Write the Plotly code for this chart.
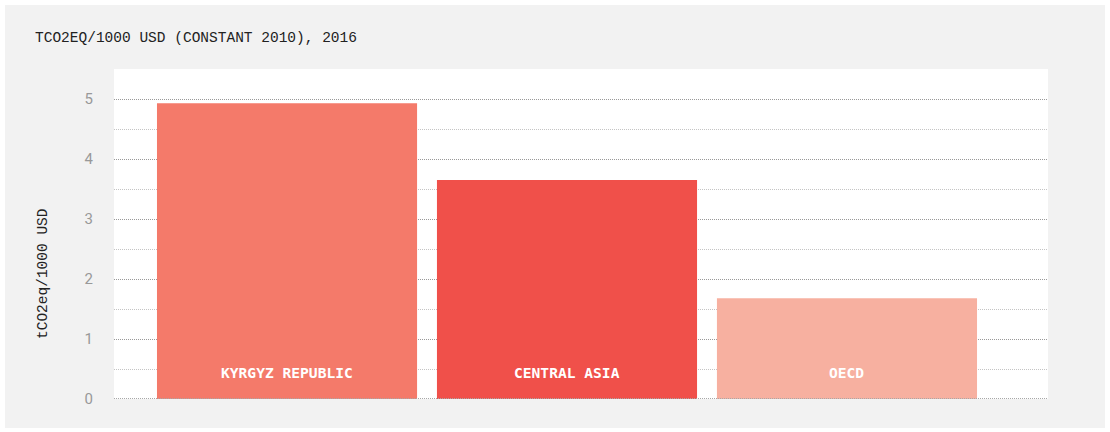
import plotly.graph_objects as go

categories = ["KYRGYZ REPUBLIC", "CENTRAL ASIA", "OECD"]
values = [4.93, 3.65, 1.68]
colors = ["#f47a6a", "#f0504a", "#f7b0a0"]
y_ticks = [0, 1, 2, 3, 4, 5]

W, H = 1110, 432
L, R, T, B = 114, 62, 69, 33
pw, ph = W - L - R, H - T - B

def px(x):
    return (x - L) / pw

def py(y):
    return (H - B - y) / ph

fig = go.Figure()
fig.add_trace(go.Bar(
    x=categories, y=values, marker=dict(color=colors, line=dict(width=0)),
    width=0.929, hoverinfo="x+y",
))

for c in categories:
    fig.add_annotation(x=c, y=0, xref="x", yref="y", text=f"<b>{c}</b>",
                       showarrow=False, yanchor="bottom", yshift=16,
                       font=dict(family="DejaVu Sans Mono", size=14.6, color="white"))

fig.add_annotation(x=px(43), y=py(274), xref="paper", yref="paper",
                   xanchor="center", yanchor="middle",
                   text="tCO2eq/1000 USD", textangle=-90, showarrow=False,
                   font=dict(family="Liberation Mono", size=14.5, color="#222"))

# panel background and plot background
fig.add_shape(type="rect", xref="paper", yref="paper", layer="below",
              x0=px(5), x1=px(1105), y0=py(428), y1=py(5),
              fillcolor="#f2f2f2", line=dict(width=0))
fig.add_shape(type="rect", xref="paper", yref="paper", layer="below",
              x0=0, x1=1, y0=0, y1=1, fillcolor="white", line=dict(width=0))
# dotted baseline at zero
fig.add_shape(type="line", xref="paper", yref="y", layer="above",
              x0=0, x1=1, y0=0, y1=0,
              line=dict(color="#a8a8a8", width=2, dash="1px,1px"))

fig.update_layout(
    width=W, height=H,
    margin=dict(l=L, r=R, t=T, b=B),
    paper_bgcolor="white", plot_bgcolor="rgba(0,0,0,0)",
    showlegend=False,
    title=dict(text="TCO2EQ/1000 USD (CONSTANT 2010), 2016",
               x=35 / W, xanchor="left", xref="container",
               y=1 - 37 / H, yanchor="middle", yref="container",
               font=dict(family="Liberation Mono", size=14.5, color="#222")),
    xaxis=dict(range=[-0.618, 2.718], showticklabels=False, showgrid=False,
               zeroline=False, showline=False, fixedrange=True),
    yaxis=dict(range=[0, 5.5], tickvals=y_ticks, showgrid=True,
               gridcolor="#999999", griddash="1px,1px", gridwidth=1,
               zeroline=False, showline=False,
               ticks="outside", ticklen=17, tickcolor="rgba(0,0,0,0)",
               tickfont=dict(family="Roboto", size=15, color="#999999"),
               minor=dict(dtick=0.5, showgrid=True, gridcolor="#c4c4c4",
                          griddash="1px,1px", gridwidth=1),
               fixedrange=True),
)

fig.write_html("out.html", config={"displayModeBar": False},
               post_script="document.body.style.margin='0px';")
